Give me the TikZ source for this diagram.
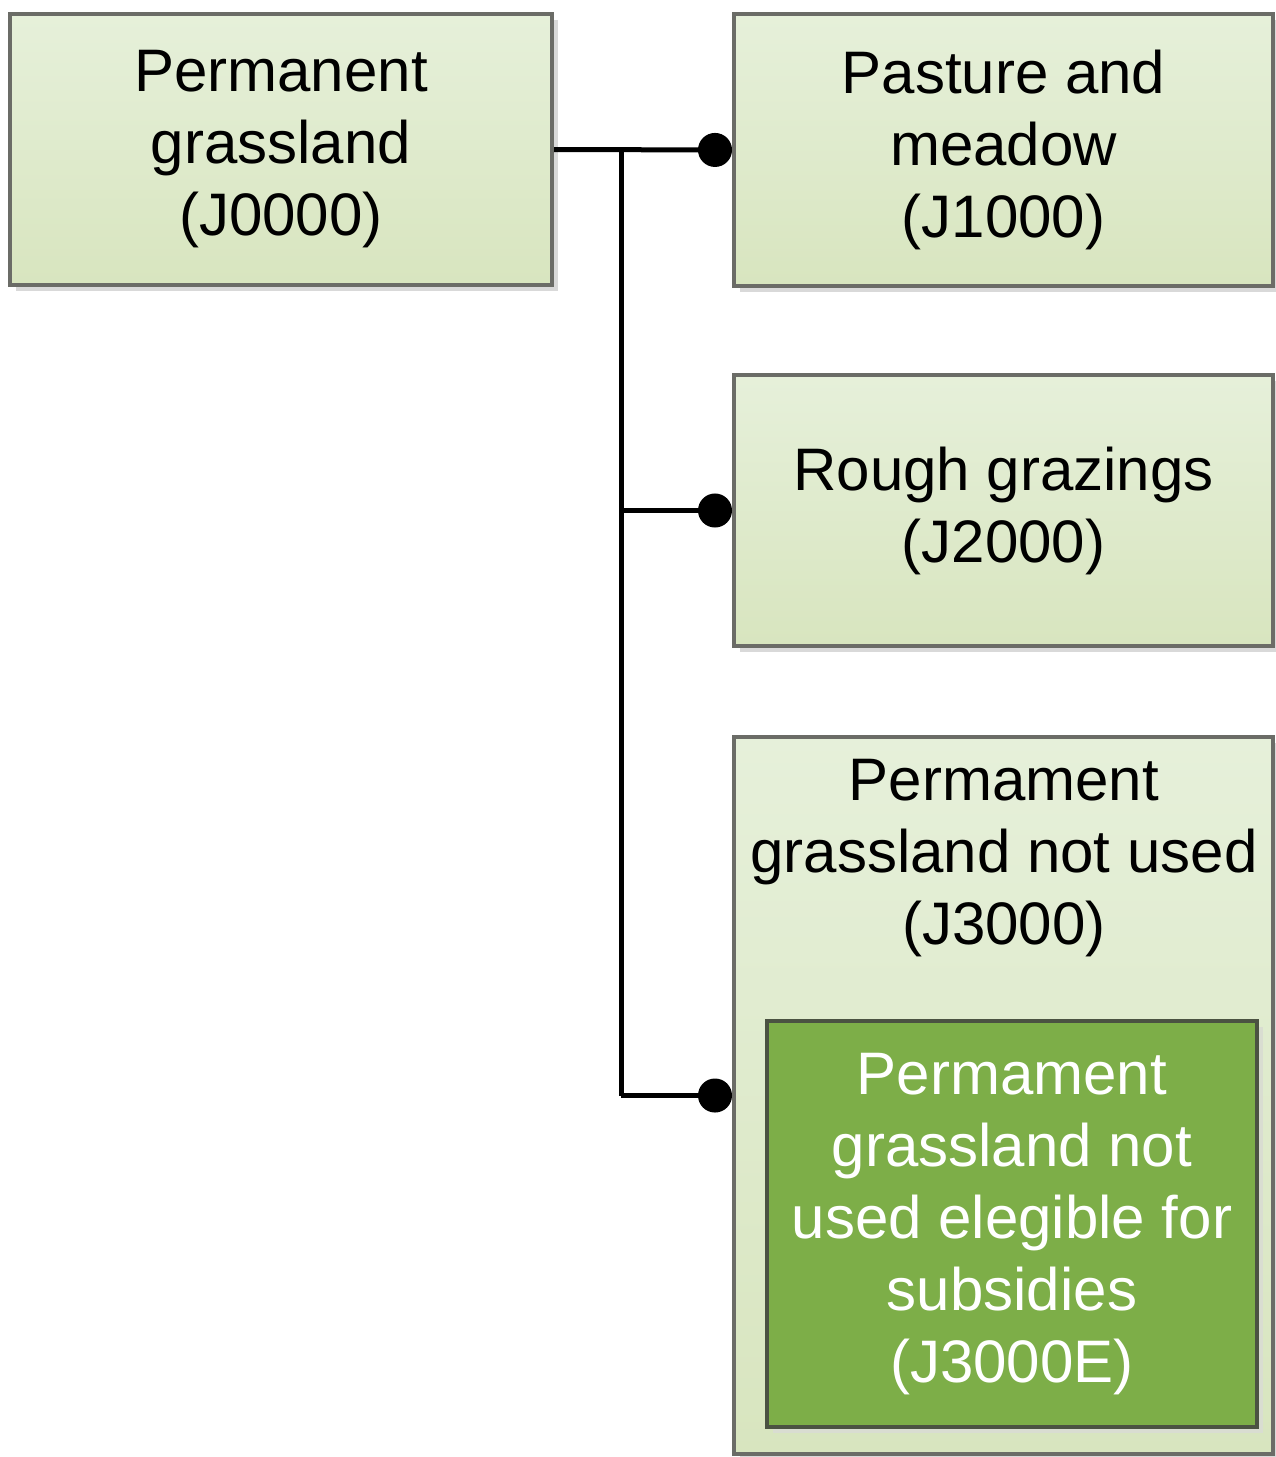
\documentclass[tikz,border=0pt]{standalone}
\usepackage{fontspec}
\setmainfont{Liberation Sans}
\usetikzlibrary{arrows.meta,shadows}
\definecolor{boxtop}{HTML}{E6F0DA}
\definecolor{boxbot}{HTML}{D8E5BF}
\definecolor{boxline}{HTML}{6B6C67}
\definecolor{darkgreen}{HTML}{7DAE48}
\definecolor{darkline}{HTML}{4B5242}
\definecolor{shadowgray}{HTML}{D9D9D9}
\begin{document}
\begin{tikzpicture}[x=1pt,y=-1pt,
  lightbox/.style={draw=boxline, line width=4pt, top color=boxtop, bottom color=boxbot,
    rectangle, inner sep=0pt, align=center, text=black,
    font=\fontsize{60}{72}\selectfont,
    drop shadow={shadow xshift=6pt, shadow yshift=-6pt, fill=shadowgray, opacity=1}},
  greenbox/.style={draw=darkline, line width=4pt, fill=darkgreen,
    rectangle, inner sep=0pt, align=center, text=white,
    font=\fontsize{60}{72}\selectfont,
    drop shadow={shadow xshift=6pt, shadow yshift=-6pt, fill=shadowgray!70!boxbot, opacity=1}},
  txt/.style={align=center, inner sep=0pt, font=\fontsize{60}{72}\selectfont},
  conn/.style={line width=5pt, black},
  dotconn/.style={line width=5pt, black, -{Circle[length=34pt]}}
]
\useasboundingbox (0,0) rectangle (1275,1457);
\node[lightbox, minimum width=542pt, minimum height=271pt] (A) at (281,149.5)
  {Permanent\\grassland\\(J0000)};
\node[lightbox, minimum width=539pt, minimum height=272pt] (B) at (1003.5,150)
  {Pasture and\\meadow\\(J1000)};
\node[lightbox, minimum width=539pt, minimum height=271pt] (C) at (1003.5,510.5)
  {Rough grazings\\(J2000)};
\node[lightbox, minimum width=539pt, minimum height=717pt] (D) at (1003.5,1095.5) {};
\node[txt] (Dt) at (1004,858) {Permament\\grassland not used\\(J3000)};
\node[greenbox, minimum width=490pt, minimum height=406pt] (E) at (1012,1224)
  {Permament\\grassland not\\used elegible for\\subsidies\\(J3000E)};
\coordinate (t1) at (621,149.5);
\coordinate (t2) at (621,510.5);
\coordinate (t3) at (621,1095.5);
\draw[conn] (t1) -- (t3);
\draw[dotconn] (A.east) -- (B.west);
\draw[dotconn] (t2) -- (C.west);
\draw[dotconn] (t3) -- (D.west);
\end{tikzpicture}
\end{document}
